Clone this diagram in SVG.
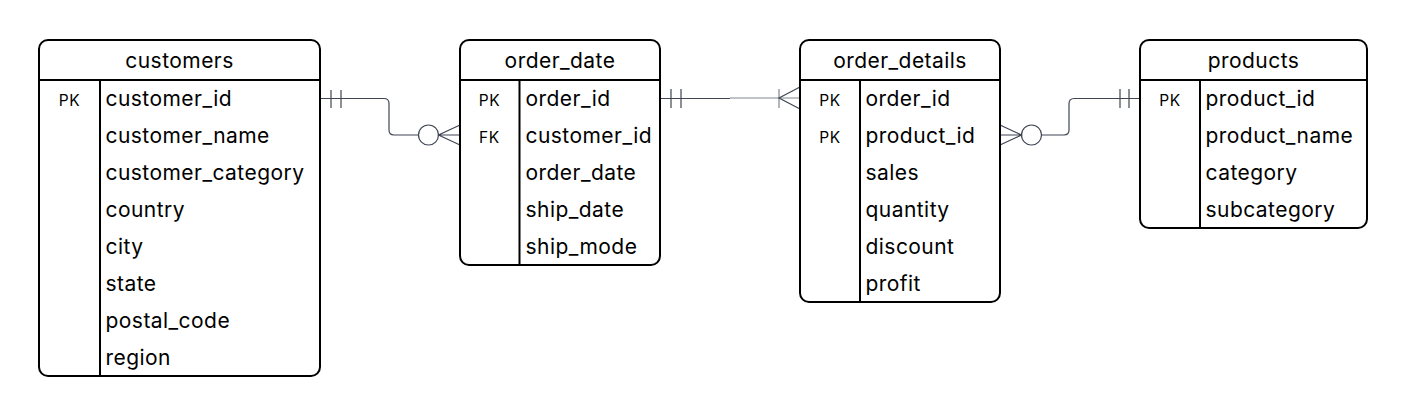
<svg xmlns="http://www.w3.org/2000/svg" width="1407" height="416" viewBox="0 0 1407 416">
<style>
.box{fill:#fff;stroke:#000;stroke-width:2}
.ln{fill:none;stroke:#000;stroke-width:2}
.t{font-family:Inter,"Liberation Sans",sans-serif;font-size:21px;letter-spacing:0.45px;fill:#000}
.h{text-anchor:middle}
.k{font-family:Inter,"Liberation Sans",sans-serif;font-size:15.5px;letter-spacing:0.6px;fill:#000;text-anchor:middle}
.c{fill:none;stroke:#3f4652;stroke-width:1.2}
.cl{fill:none;stroke:#80858d;stroke-width:1.2}
</style>
<rect width="1407" height="416" fill="#fff"/>
<g id="connectors">
  <path class="c" d="M320,98.5 H384 Q389,98.5 389,103.5 V130 Q389,135 394,135 H418.5"/>
  <path class="c" d="M331,90 V108 M341,90 V108"/>
  <circle class="c" cx="428.5" cy="135" r="10" fill="#fff"/>
  <path class="c" d="M460,125 L438.5,135 L460,145 M438.5,135 H460"/>
  <path class="c" d="M660,98.5 H730"/>
  <path class="cl" d="M730,98 H800"/>
  <path class="c" d="M671,89 V108 M681,89 V108"/>
  <path class="cl" d="M779,89 V108"/>
  <path class="c" d="M800,87 L779,98 L800,109"/>
  <path class="c" d="M1000,125 L1021.5,135 L1000,145 M1000,135 H1021.5"/>
  <circle class="c" cx="1031.5" cy="135" r="10" fill="#fff"/>
  <path class="c" d="M1041.5,135 H1064 Q1069,135 1069,130 V104 Q1069,98.5 1074,98.5 H1140"/>
  <path class="c" d="M1120,89 V108 M1129,89 V108"/>
</g>
<g id="customers">
  <rect class="box" x="39" y="40" width="281" height="336" rx="9"/>
  <path class="ln" d="M39,80 H320 M100,80 V376"/>
  <text class="t h" x="179.5" y="67.5">customers</text>
  <text class="k" x="69.5" y="105.5">PK</text>
  <text class="t" x="105.5" y="106">customer_id</text>
  <text class="t" x="105.5" y="143">customer_name</text>
  <text class="t" x="105.5" y="180">customer_category</text>
  <text class="t" x="105.5" y="217">country</text>
  <text class="t" x="105.5" y="254">city</text>
  <text class="t" x="105.5" y="291">state</text>
  <text class="t" x="105.5" y="328">postal_code</text>
  <text class="t" x="105.5" y="365">region</text>
</g>
<g id="order_date">
  <rect class="box" x="460" y="40" width="200" height="225" rx="9"/>
  <path class="ln" d="M460,80 H660 M519.5,80 V265"/>
  <text class="t h" x="560" y="67.5">order_date</text>
  <text class="k" x="489.5" y="105.5">PK</text>
  <text class="k" x="489.5" y="142.5">FK</text>
  <text class="t" x="525.5" y="106">order_id</text>
  <text class="t" x="525.5" y="143">customer_id</text>
  <text class="t" x="525.5" y="180">order_date</text>
  <text class="t" x="525.5" y="217">ship_date</text>
  <text class="t" x="525.5" y="254">ship_mode</text>
</g>
<g id="order_details">
  <rect class="box" x="800" y="40" width="200" height="262" rx="9"/>
  <path class="ln" d="M800,80 H1000 M860,80 V302"/>
  <text class="t h" x="900" y="67.5">order_details</text>
  <text class="k" x="830" y="105.5">PK</text>
  <text class="k" x="830" y="142.5">PK</text>
  <text class="t" x="865.5" y="106">order_id</text>
  <text class="t" x="865.5" y="143">product_id</text>
  <text class="t" x="865.5" y="180">sales</text>
  <text class="t" x="865.5" y="217">quantity</text>
  <text class="t" x="865.5" y="254">discount</text>
  <text class="t" x="865.5" y="291">profit</text>
</g>
<g id="products">
  <rect class="box" x="1140" y="40" width="227" height="188" rx="9"/>
  <path class="ln" d="M1140,80 H1367 M1200,80 V228"/>
  <text class="t h" x="1253.5" y="67.5">products</text>
  <text class="k" x="1170" y="105.5">PK</text>
  <text class="t" x="1205.5" y="106">product_id</text>
  <text class="t" x="1205.5" y="143">product_name</text>
  <text class="t" x="1205.5" y="180">category</text>
  <text class="t" x="1205.5" y="217">subcategory</text>
</g>
</svg>
